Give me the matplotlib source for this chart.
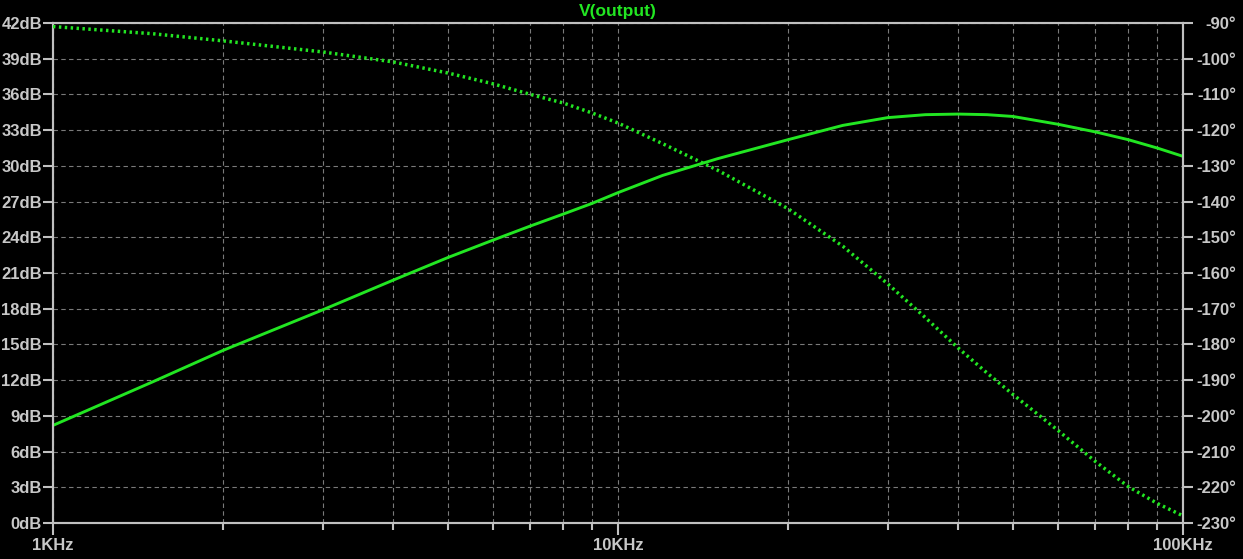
import matplotlib
matplotlib.use('Agg')
import matplotlib.pyplot as plt
from matplotlib.ticker import FixedLocator, FixedFormatter, LogLocator, NullFormatter

# frequency points (Hz)
freq = [1000, 1500, 2000, 3000, 4000, 5000, 6000, 7000, 8000, 9000, 10000,
        12000, 15000, 20000, 25000, 30000, 35000, 40000, 45000, 50000,
        60000, 70000, 80000, 90000, 100000]
# magnitude, dB (solid)
mag_db = [8.2, 11.85, 14.5, 17.9, 20.4, 22.3, 23.75, 24.95, 25.95, 26.85, 27.75,
          29.2, 30.6, 32.2, 33.4, 34.05, 34.3, 34.35, 34.3, 34.15,
          33.5, 32.85, 32.2, 31.5, 30.8]
# phase, degrees (dotted)
phase_deg = [-91.0, -93.0, -95.0, -98.1, -100.9, -104.0, -107.0, -110.0, -112.4, -115.2, -118.0,
             -123.8, -131.2, -142.0, -152.5, -163.0, -172.5, -181.0, -188.0, -194.0,
             -204.0, -212.8, -219.8, -224.5, -228.0]

db_ticks = list(range(0, 43, 3))
db_labels = [f'{v}dB' for v in db_ticks]
ph_ticks = list(range(-230, -89, 10))
ph_labels = [f'{v}\u00b0' for v in ph_ticks]
x_ticks = [1000, 10000, 100000]
x_labels = ['1KHz', '10KHz', '100KHz']

green = '#22e622'
frame = '#c0c0c0'
txt = '#c8c8c8'
gridc = '#7a7a7a'

plt.rcParams['font.family'] = ['Liberation Sans', 'DejaVu Sans']

fig = plt.figure(figsize=(12.43, 5.59), dpi=100, facecolor='black')
ax = fig.add_axes([53 / 1243, 1 - 523 / 559, 1130 / 1243, 500 / 559])
ax.set_facecolor('black')
ax2 = ax.twinx()

ax.set_xscale('log')
ax.set_xlim(1000, 100000)
ax.set_ylim(0, 42)
ax2.set_ylim(-230, -90)

ax.xaxis.set_major_locator(FixedLocator(x_ticks))
ax.xaxis.set_major_formatter(FixedFormatter(x_labels))
ax.xaxis.set_minor_locator(LogLocator(base=10, subs=range(2, 10)))
ax.xaxis.set_minor_formatter(NullFormatter())

ax.yaxis.set_major_locator(FixedLocator(db_ticks))
ax.yaxis.set_major_formatter(FixedFormatter(db_labels))
ax2.yaxis.set_major_locator(FixedLocator(ph_ticks))
ax2.yaxis.set_major_formatter(FixedFormatter(ph_labels))

ax.grid(which='both', axis='x', color=gridc, linestyle=(0, (4, 3)), linewidth=0.8)
ax.grid(which='major', axis='y', color=gridc, linestyle=(0, (4, 3)), linewidth=0.8)

for a in (ax, ax2):
    for s in a.spines.values():
        s.set_color(frame)
        s.set_linewidth(1.5)

ax.tick_params(axis='x', which='major', length=8.5, width=1.5, color=frame,
               labelcolor=txt, labelsize=12, pad=2)
ax.tick_params(axis='x', which='minor', length=5, width=1.5, color=frame)
ax.tick_params(axis='y', length=7, width=1.5, color=frame, labelcolor=txt,
               labelsize=12, pad=1)
ax2.tick_params(axis='y', length=7, width=1.5, color=frame, labelcolor=txt,
                labelsize=12, pad=31.5)
for lab in ax.get_xticklabels() + ax.get_yticklabels():
    lab.set_fontweight('bold')
for lab in ax2.get_yticklabels():
    lab.set_horizontalalignment('right')
    lab.set_fontweight('bold')

ax.plot(freq, mag_db, color=green, linewidth=2.1, zorder=3)
ax2.plot(freq, phase_deg, color=green, linewidth=2.5,
         linestyle=(0, (0.7, 1.0)), dash_capstyle='butt', zorder=3)

ax.set_title('V(output)', color=green, fontsize=12.5, fontweight='bold', pad=5)

fig.savefig('out.png', dpi=100, facecolor='black')
